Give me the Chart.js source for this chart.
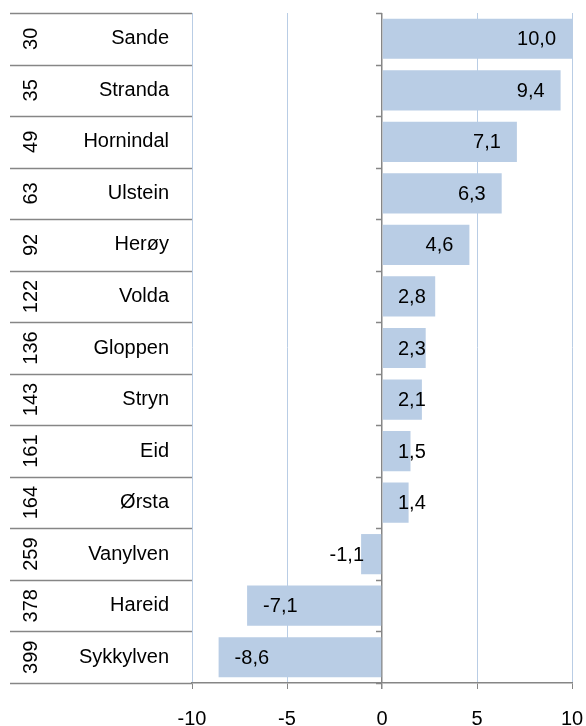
<!DOCTYPE html>
<html>
<head>
<meta charset="utf-8">
<script src="https://cdn.jsdelivr.net/npm/chart.js@4/dist/chart.umd.min.js"></script>
<style>
  html, body { margin: 0; padding: 0; background: #fff; }
  #wrap { width: 586px; height: 726px; }
</style>
</head>
<body>
<div id="wrap"><canvas id="chart"></canvas></div>
<script>
var ranks = ["30", "35", "49", "63", "92", "122", "136", "143", "161", "164", "259", "378", "399"];
var kommuner = ["Sande", "Stranda", "Hornindal", "Ulstein", "Herøy", "Volda", "Gloppen", "Stryn", "Eid", "Ørsta", "Vanylven", "Hareid", "Sykkylven"];
var verdier = [10.0, 9.4, 7.1, 6.3, 4.6, 2.8, 2.3, 2.1, 1.5, 1.4, -1.1, -7.1, -8.6];
var xTicks = [-10, -5, 0, 5, 10];

var FONT = '20px "Liberation Sans", Arial, sans-serif';
var lineGray = '#868686';
var barBlue = '#b9cde5';

// draws the two label columns, the separators and the bar values
var labelPlugin = {
    id: 'labelPlugin',
    afterDraw: function(chart) {
        var ctx = chart.ctx;
        var area = chart.chartArea;
        var y = chart.scales.y;
        var x = chart.scales.x;
        var zeroX = x.getPixelForValue(0);
        var n = kommuner.length;

        ctx.save();
        // separators on the left + small ticks on the zero axis
        ctx.strokeStyle = lineGray;
        ctx.lineWidth = 1.5;
        for (var i = 0; i <= n; i++) {
            var by;
            if (i == 0) by = area.top;
            else if (i == n) by = area.bottom;
            else by = (y.getPixelForValue(i - 1) + y.getPixelForValue(i)) / 2;
            by = Math.round(by) + 0.5;
            ctx.beginPath();
            ctx.moveTo(10, by);
            ctx.lineTo(area.left, by);
            ctx.stroke();
            ctx.beginPath();
            ctx.moveTo(zeroX - 6, by);
            ctx.lineTo(zeroX, by);
            ctx.stroke();
        }

        ctx.fillStyle = '#000';
        ctx.font = FONT;
        ctx.textBaseline = 'middle';
        for (var i = 0; i < n; i++) {
            var cy = y.getPixelForValue(i);
            // municipality name
            ctx.textAlign = 'right';
            ctx.fillText(kommuner[i], 169, cy);
            // rank, rotated
            ctx.save();
            ctx.translate(31, cy);
            ctx.rotate(-Math.PI / 2);
            ctx.textAlign = 'center';
            ctx.fillText(ranks[i], 0, 0);
            ctx.restore();

            // value label
            var v = verdier[i];
            var txt = v.toFixed(1).replace('.', ',');
            var w = ctx.measureText(txt).width;
            var endX = x.getPixelForValue(v);
            ctx.textAlign = 'left';
            var lx;
            if (v >= 0) {
                lx = Math.max(endX - 16 - w, zeroX + 16);
            } else {
                lx = Math.min(endX + 16, zeroX - 18 - w);
            }
            ctx.fillText(txt, lx, cy + 1);
        }
        ctx.restore();
    }
};

var ctx = document.getElementById('chart').getContext('2d');
var chart = new Chart(ctx, {
    type: 'bar',
    data: {
        labels: kommuner,
        datasets: [{
            data: verdier,
            backgroundColor: barBlue,
            borderWidth: 0,
            barPercentage: 0.78,
            categoryPercentage: 1.0
        }]
    },
    options: {
        indexAxis: 'y',
        responsive: true,
        maintainAspectRatio: false,
        animation: false,
        devicePixelRatio: 1,
        layout: { padding: { top: 13, right: 14, left: 10, bottom: 0 } },
        plugins: {
            legend: { display: false },
            tooltip: { enabled: false }
        },
        scales: {
            x: {
                min: -10,
                max: 10,
                afterBuildTicks: function(scale) {
                    scale.ticks = xTicks.map(function(v) { return { value: v }; });
                },
                afterFit: function(scale) {
                    scale.height = 43;
                    scale.paddingLeft = 0;
                    scale.paddingRight = 0;
                },
                grid: {
                    color: function(c) { return c.tick && c.tick.value === 0 ? lineGray : barBlue; },
                    lineWidth: function(c) { return c.tick && c.tick.value === 0 ? 1.5 : 1; },
                    tickColor: lineGray,
                    tickLength: 6
                },
                border: { display: true, color: lineGray, width: 1.5 },
                ticks: {
                    color: '#000',
                    padding: 18,
                    maxRotation: 0,
                    font: { family: '"Liberation Sans", Arial, sans-serif', size: 20 },
                    callback: function(v) { return String(v); }
                }
            },
            y: {
                afterFit: function(scale) { scale.width = 182; },
                grid: { display: false },
                border: { display: false },
                ticks: { display: false }
            }
        }
    },
    plugins: [labelPlugin]
});
</script>
</body>
</html>
